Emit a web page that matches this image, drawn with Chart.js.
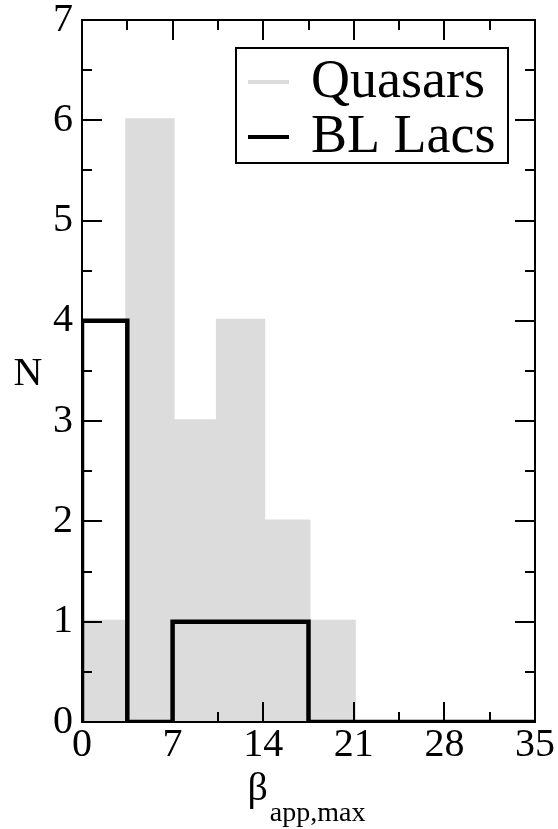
<!DOCTYPE html>
<html>
<head>
<meta charset="utf-8">
<script src="https://cdn.jsdelivr.net/npm/chart.js@4.4.1/dist/chart.umd.min.js"></script>
<style>
  html, body { margin: 0; padding: 0; background: #fff; }
  #wrap { width: 558px; height: 829px; position: relative; }
</style>
</head>
<body>
<div id="wrap"><canvas id="histChart"></canvas></div>
<script>
// histogram bins of beta_app,max (width 3.5)
const binEdges = [0, 3.5, 7, 10.5, 14, 17.5, 21, 24.5, 28, 31.5, 35];
const quasarCounts = [1, 6, 3, 4, 2, 1, 0, 0, 0, 0];
const blLacCounts = [4, 0, 1, 1, 1, 0, 0, 0, 0, 0];
const seriesLabels = ['Quasars', 'BL Lacs'];

const xTickValues = [0, 7, 14, 21, 28, 35];
const xMinorTicks = [3.5, 10.5, 17.5, 24.5, 31.5];
const yTickValues = [0, 1, 2, 3, 4, 5, 6, 7];
const yMinorTicks = [0.5, 1.5, 2.5, 3.5, 4.5, 5.5, 6.5];

const xTitle = 'β';
const xTitleSub = 'app,max';
const yTitle = 'N';

const SERIF = '"Liberation Serif", "Times New Roman", serif';
const GREY = '#dcdcdc';

// turn counts into points for a stepped line
function stepPoints(counts, fromZero) {
    let pts = [];
    if (fromZero) pts.push({ x: binEdges[0], y: 0 });
    counts.forEach((c, i) => pts.push({ x: binEdges[i], y: c }));
    pts.push({ x: binEdges[binEdges.length - 1], y: counts[counts.length - 1] });
    return pts;
}

// frame, inward ticks, legend and axis titles
const framePlugin = {
    id: 'framePlugin',
    afterDatasetsDraw(chart) {
        const { ctx, chartArea: a, scales: { x, y } } = chart;
        ctx.save();
        ctx.strokeStyle = '#000';
        ctx.lineWidth = 2;
        ctx.beginPath();
        const xt = (vals, len) => vals.forEach(v => {
            let px = Math.round(x.getPixelForValue(v));
            ctx.moveTo(px, a.bottom); ctx.lineTo(px, a.bottom - len);
            ctx.moveTo(px, a.top); ctx.lineTo(px, a.top + len);
        });
        const yt = (vals, len) => vals.forEach(v => {
            let py = Math.round(y.getPixelForValue(v));
            ctx.moveTo(a.left, py); ctx.lineTo(a.left + len, py);
            ctx.moveTo(a.right, py); ctx.lineTo(a.right - len, py);
        });
        xt(xTickValues, 20); xt(xMinorTicks, 10);
        yt(yTickValues, 20); yt(yMinorTicks, 10);
        ctx.stroke();
        ctx.strokeRect(a.left, a.top, a.right - a.left, a.bottom - a.top);

        // legend box
        let bx = a.right - 299, by = a.top + 28, bw = 272, bh = 115;
        ctx.fillStyle = '#fff';
        ctx.fillRect(bx, by, bw, bh);
        ctx.strokeRect(bx, by, bw, bh);
        chart.data.datasets.forEach((ds, i) => {
            let ly = by + 34 + i * 55;
            ctx.beginPath();
            ctx.strokeStyle = ds.legendColor;
            ctx.lineWidth = 4;
            ctx.moveTo(bx + 12, ly); ctx.lineTo(bx + 53, ly);
            ctx.stroke();
            ctx.fillStyle = '#000';
            ctx.font = '54px ' + SERIF;
            ctx.textAlign = 'left';
            ctx.textBaseline = 'alphabetic';
            ctx.fillText(ds.label, bx + 75, ly + 15);
        });

        // axis titles
        ctx.fillStyle = '#000';
        ctx.font = '40px ' + SERIF;
        ctx.textAlign = 'center';
        ctx.textBaseline = 'middle';
        ctx.fillText(yTitle, 28, (a.top + a.bottom) / 2 + 3);

        ctx.textAlign = 'left';
        ctx.textBaseline = 'alphabetic';
        ctx.font = '40px ' + SERIF;
        let w1 = ctx.measureText(xTitle).width;
        ctx.font = '28px ' + SERIF;
        let w2 = ctx.measureText(xTitleSub).width;
        let tx = (a.left + a.right) / 2 - (w1 + w2 + 2) / 2 - 2;
        ctx.font = '40px ' + SERIF;
        ctx.fillText(xTitle, tx, 800);
        ctx.font = '28px ' + SERIF;
        ctx.fillText(xTitleSub, tx + w1 + 2, 821);
        ctx.restore();
    }
};

new Chart(document.getElementById('histChart'), {
    type: 'line',
    data: {
        datasets: [{
            label: seriesLabels[0],
            data: stepPoints(quasarCounts, false),
            stepped: 'before',
            fill: 'origin',
            backgroundColor: GREY,
            borderColor: GREY,
            borderWidth: 4,
            pointRadius: 0,
            legendColor: GREY,
            order: 2
        }, {
            label: seriesLabels[1],
            data: stepPoints(blLacCounts, true),
            stepped: 'before',
            fill: false,
            borderColor: '#000',
            borderWidth: 4.5,
            pointRadius: 0,
            legendColor: '#000',
            order: 1
        }]
    },
    options: {
        responsive: true,
        maintainAspectRatio: false,
        animation: false,
        layout: { padding: { left: 0, right: 23, top: 20, bottom: 0 } },
        plugins: { legend: { display: false }, tooltip: { enabled: false } },
        scales: {
            x: {
                type: 'linear',
                min: 0,
                max: 35,
                afterFit: scale => {
                    scale.height = 107;
                    scale.paddingLeft = 0; scale.paddingRight = 0;
                },
                afterBuildTicks: scale => { scale.ticks = xTickValues.map(v => ({ value: v })); },
                grid: { display: false, drawTicks: false },
                border: { display: false },
                ticks: {
                    autoSkip: false,
                    maxRotation: 0,
                    padding: 3,
                    color: '#000',
                    font: { family: SERIF, size: 40, lineHeight: 1 }
                }
            },
            y: {
                min: 0,
                max: 7,
                afterFit: scale => {
                    scale.width = 82;
                    scale.paddingTop = 0; scale.paddingBottom = 0;
                },
                afterBuildTicks: scale => { scale.ticks = yTickValues.map(v => ({ value: v })); },
                grid: { display: false, drawTicks: false },
                border: { display: false },
                ticks: {
                    autoSkip: false,
                    padding: 9,
                    color: '#000',
                    font: { family: SERIF, size: 40, lineHeight: 1 }
                }
            }
        }
    },
    plugins: [framePlugin]
});
</script>
</body>
</html>
